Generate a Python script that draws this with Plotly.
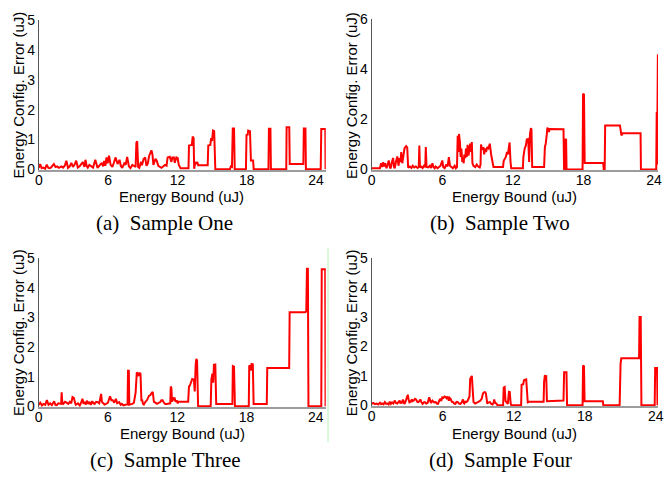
import plotly.graph_objects as go

# ---------------------------------------------------------------------------
# Energy configuration error versus energy bound, four samples
# ---------------------------------------------------------------------------
x_ticks = [0, 6, 12, 18, 24]
y_ticks_five = [0, 1, 2, 3, 4, 5]
y_ticks_six = [0, 2, 4, 6]
captions = ["(a)  Sample One", "(b)  Sample Two", "(c)  Sample Three", "(d)  Sample Four"]
x_title = "Energy Bound (uJ)"
y_title = "Energy Config. Error (uJ)"

# Sample One
one_bound = [
    0.00, 0.12, 0.25, 0.40, 0.55, 0.69, 0.83, 0.97, 1.10, 1.31, 1.45, 1.59, 1.75, 1.96, 2.10,
    2.25, 2.39, 2.53, 2.68, 2.82, 2.96, 3.10, 3.24, 3.38, 3.53, 3.67, 3.81, 3.95, 4.04, 4.14,
    4.24, 4.38, 4.52, 4.70, 4.89, 5.00, 5.09, 5.28, 5.46, 5.56, 5.66, 5.76, 5.86, 5.96, 6.08,
    6.22, 6.37, 6.50, 6.65, 6.82, 6.99, 7.10, 7.22, 7.40, 7.52, 7.65, 7.80, 7.93, 8.10, 8.22,
    8.38, 8.45, 8.52, 8.60, 8.70, 8.85, 8.93, 9.07, 9.21, 9.32, 9.44, 9.55, 9.64, 9.75, 9.84,
    9.92, 10.01, 10.10, 10.20, 10.35, 10.49, 10.63, 10.77, 10.92, 11.06, 11.15, 11.34, 11.48, 11.56, 11.70,
    11.77, 11.91, 12.02, 12.12, 12.27, 12.96, 13.00, 13.25, 13.32, 13.40, 13.45, 13.55, 13.65, 13.72, 13.80,
    14.62, 14.67, 14.85, 14.92, 15.00, 15.08, 15.18, 15.28, 16.55, 16.62, 16.72, 16.79, 16.90, 16.96, 17.93,
    17.98, 18.08, 18.12, 18.28, 18.36, 18.55, 18.60, 19.88, 19.92, 20.05, 20.09, 21.42, 21.45, 21.68, 21.72,
    22.90, 22.94, 23.08, 23.12, 24.40, 24.45, 24.80, 24.82,
]
one_error = [
    0.05, 0.18, 0.04, 0.06, 0.02, 0.16, 0.05, 0.04, 0.08, 0.18, 0.08, 0.10, 0.05, 0.10, 0.06,
    0.12, 0.29, 0.05, 0.10, 0.22, 0.08, 0.16, 0.29, 0.06, 0.10, 0.18, 0.24, 0.08, 0.32, 0.12,
    0.06, 0.15, 0.12, 0.06, 0.32, 0.20, 0.05, 0.14, 0.22, 0.10, 0.28, 0.12, 0.40, 0.20, 0.46,
    0.15, 0.08, 0.22, 0.40, 0.18, 0.32, 0.12, 0.05, 0.20, 0.15, 0.42, 0.10, 0.04, 0.15, 0.12,
    0.08, 0.90, 0.94, 0.08, 0.05, 0.25, 0.14, 0.35, 0.40, 0.12, 0.20, 0.45, 0.55, 0.64, 0.50,
    0.15, 0.25, 0.35, 0.30, 0.12, 0.08, 0.05, 0.10, 0.15, 0.12, 0.40, 0.42, 0.25, 0.40, 0.40,
    0.22, 0.40, 0.38, 0.15, 0.04, 0.04, 0.80, 0.82, 1.10, 1.05, 0.02, 0.25, 0.18, 0.25, 0.14,
    0.14, 0.80, 0.82, 1.05, 0.95, 1.30, 1.28, 0.00, 0.00, 0.10, 0.08, 1.37, 1.37, 0.00, 0.00,
    1.15, 1.16, 1.30, 1.28, 0.30, 0.30, 0.00, 0.00, 1.36, 1.36, 0.00, 0.00, 1.41, 1.41, 0.18,
    0.18, 1.37, 1.37, 0.00, 0.00, 1.35, 1.35, 0.00,
]

# Sample Two
two_bound = [
    0.00, 0.14, 0.70, 0.80, 0.90, 0.98, 1.06, 1.15, 1.26, 1.36, 1.45, 1.55, 1.62, 1.72, 1.82,
    1.90, 1.96, 2.08, 2.18, 2.28, 2.37, 2.45, 2.51, 2.60, 2.65, 2.79, 2.93, 3.02, 3.10, 3.25,
    3.38, 3.49, 3.62, 3.75, 3.91, 4.00, 4.05, 4.10, 4.22, 4.33, 4.45, 4.55, 4.60, 4.66, 4.80,
    4.95, 5.05, 5.16, 5.25, 5.35, 5.44, 5.60, 5.72, 5.85, 6.00, 6.08, 6.20, 6.35, 6.45, 6.56,
    6.65, 6.75, 6.90, 7.05, 7.15, 7.25, 7.31, 7.38, 7.42, 7.50, 7.56, 7.62, 7.70, 7.76, 7.82,
    7.87, 7.95, 8.01, 8.08, 8.15, 8.23, 8.30, 8.37, 8.45, 8.51, 8.56, 8.65, 8.80, 8.93, 9.05,
    9.18, 9.25, 9.29, 9.38, 9.49, 9.56, 9.63, 9.72, 9.82, 9.92, 10.04, 10.15, 10.27, 10.35, 10.46,
    11.16, 11.22, 11.40, 11.50, 11.58, 11.65, 11.72, 11.80, 11.86, 12.85, 12.89, 13.00, 13.10, 13.18, 13.30,
    13.38, 13.45, 13.53, 13.58, 13.64, 14.65, 14.72, 14.79, 14.88, 14.93, 15.00, 15.06, 15.12, 16.30, 16.35,
    16.42, 16.46, 16.52, 16.56, 17.92, 17.96, 18.04, 18.10, 19.67, 19.72, 19.80, 19.84, 21.10, 21.22, 21.32,
    22.85, 22.88, 24.18, 24.22, 24.25, 24.28, 24.32,
]
two_error = [
    0.05, 0.05, 0.05, 0.25, 0.10, 0.29, 0.12, 0.25, 0.05, 0.20, 0.36, 0.08, 0.05, 0.30, 0.46,
    0.10, 0.05, 0.35, 0.52, 0.15, 0.45, 0.30, 0.70, 0.25, 0.40, 0.84, 0.93, 0.88, 0.07, 0.12,
    0.06, 0.15, 0.08, 0.12, 0.06, 0.10, 0.96, 0.08, 0.12, 0.06, 0.15, 0.10, 0.90, 0.10, 0.08,
    0.15, 0.06, 0.25, 0.10, 0.05, 0.12, 0.05, 0.10, 0.15, 0.36, 0.10, 0.05, 0.20, 0.12, 0.49,
    0.15, 0.10, 0.05, 0.15, 0.05, 0.10, 1.35, 0.70, 1.42, 1.10, 0.50, 0.84, 0.30, 0.45, 0.25,
    0.60, 0.45, 0.84, 0.50, 0.99, 0.55, 0.80, 1.03, 0.70, 1.10, 0.26, 0.15, 0.10, 0.20, 0.12,
    0.08, 0.20, 1.00, 0.80, 0.89, 0.60, 0.84, 0.70, 0.90, 0.85, 1.03, 0.60, 0.26, 0.10, 0.10,
    0.10, 0.35, 0.50, 0.70, 0.60, 0.85, 1.08, 0.30, 0.05, 0.05, 0.50, 0.84, 0.95, 1.20, 1.22,
    0.30, 1.40, 1.65, 1.60, 0.10, 0.10, 0.90, 1.03, 1.40, 1.67, 1.62, 1.50, 1.62, 1.61, 0.00,
    0.00, 1.22, 1.20, 0.00, 0.00, 3.03, 3.00, 0.26, 0.26, 0.00, 0.00, 1.76, 1.76, 1.36, 1.45,
    1.45, 0.00, 0.00, 2.30, 0.20, 4.60, 4.60,
]

# Sample Three
three_bound = [
    0.00, 0.14, 0.28, 0.43, 0.57, 0.71, 0.85, 1.00, 1.14, 1.25, 1.34, 1.45, 1.57, 1.70, 1.85,
    1.95, 1.99, 2.05, 2.13, 2.28, 2.42, 2.56, 2.70, 2.82, 2.93, 3.05, 3.15, 3.22, 3.40, 3.56,
    3.68, 3.79, 3.90, 3.99, 4.10, 4.18, 4.30, 4.41, 4.52, 4.64, 4.75, 4.84, 4.98, 5.12, 5.25,
    5.41, 5.48, 5.55, 5.70, 5.84, 6.00, 6.18, 6.30, 6.40, 6.55, 6.69, 6.80, 6.97, 7.10, 7.20,
    7.35, 7.49, 7.62, 7.70, 7.74, 7.81, 7.85, 7.95, 8.11, 8.25, 8.40, 8.50, 8.58, 8.65, 8.72,
    8.82, 8.90, 8.97, 9.04, 9.11, 9.25, 9.39, 9.55, 9.68, 9.80, 9.88, 9.98, 10.05, 10.25, 10.40,
    10.53, 10.63, 10.73, 10.85, 10.96, 11.10, 11.24, 11.40, 11.44, 11.50, 11.55, 11.62, 11.70, 11.76, 11.86,
    11.96, 12.05, 12.10, 12.95, 13.02, 13.10, 13.30, 13.45, 13.52, 13.60, 13.66, 13.72, 13.81, 14.90, 14.96,
    15.05, 15.12, 15.18, 15.30, 15.38, 16.78, 16.82, 16.92, 17.00, 18.20, 18.24, 18.34, 18.38, 18.44, 18.55,
    18.62, 19.76, 19.80, 21.70, 21.74, 23.10, 23.18, 23.24, 23.32, 23.37, 24.48, 24.52, 24.82, 24.85,
]
three_error = [
    0.05, 0.12, 0.03, 0.08, 0.05, 0.21, 0.05, 0.10, 0.04, 0.12, 0.17, 0.05, 0.04, 0.10, 0.08,
    0.08, 0.47, 0.10, 0.08, 0.15, 0.12, 0.08, 0.15, 0.10, 0.31, 0.28, 0.12, 0.05, 0.10, 0.03,
    0.12, 0.25, 0.08, 0.15, 0.06, 0.19, 0.08, 0.15, 0.05, 0.17, 0.10, 0.08, 0.15, 0.14, 0.10,
    0.42, 0.15, 0.12, 0.06, 0.08, 0.12, 0.34, 0.20, 0.21, 0.12, 0.25, 0.10, 0.14, 0.05, 0.08,
    0.03, 0.05, 0.06, 0.06, 1.20, 1.20, 0.05, 0.06, 0.08, 0.12, 0.47, 1.15, 1.10, 1.02, 1.12,
    1.10, 0.20, 0.20, 0.08, 0.06, 0.15, 0.21, 0.35, 0.38, 0.45, 0.49, 0.15, 0.14, 0.08, 0.10,
    0.14, 0.20, 0.20, 0.12, 0.08, 0.08, 0.08, 0.10, 0.67, 0.60, 0.15, 0.30, 0.20, 0.30, 0.15,
    0.20, 0.10, 0.15, 0.15, 0.67, 0.70, 0.92, 0.90, 0.50, 1.40, 1.60, 1.55, 0.00, 0.00, 0.90,
    1.10, 0.80, 1.40, 1.41, 0.08, 0.08, 1.36, 1.34, 0.00, 0.00, 1.38, 1.35, 1.20, 1.43, 1.42,
    0.08, 0.08, 1.29, 1.29, 3.18, 3.18, 3.20, 4.65, 4.65, 0.00, 0.00, 4.63, 4.63, 0.00,
]

# Sample Four
four_bound = [
    0.00, 0.14, 0.28, 0.42, 0.56, 0.70, 0.80, 0.89, 1.00, 1.11, 1.22, 1.33, 1.43, 1.53, 1.62,
    1.72, 1.83, 1.94, 2.05, 2.17, 2.27, 2.36, 2.43, 2.50, 2.58, 2.64, 2.72, 2.78, 2.92, 3.05,
    3.12, 3.19, 3.30, 3.39, 3.47, 3.55, 3.65, 3.75, 3.85, 3.94, 4.03, 4.11, 4.20, 4.30, 4.40,
    4.49, 4.60, 4.72, 4.86, 4.93, 5.00, 5.13, 5.27, 5.41, 5.50, 5.60, 5.69, 5.77, 5.87, 5.96,
    6.06, 6.16, 6.25, 6.33, 6.42, 6.52, 6.59, 6.66, 6.77, 6.88, 6.97, 7.07, 7.17, 7.27, 7.38,
    7.49, 7.60, 7.71, 7.78, 7.82, 7.91, 7.99, 8.10, 8.18, 8.26, 8.32, 8.40, 8.46, 8.52, 8.60,
    8.74, 8.88, 9.02, 9.15, 9.29, 9.40, 9.49, 9.57, 9.65, 9.72, 9.76, 9.87, 9.99, 10.10, 10.21,
    10.30, 10.35, 10.42, 10.54, 10.62, 11.10, 11.15, 11.23, 11.30, 11.37, 11.50, 11.59, 11.66, 11.74, 11.79,
    12.62, 12.66, 12.80, 12.86, 13.05, 13.12, 13.18, 13.30, 14.52, 14.56, 14.62, 14.74, 14.80, 16.20, 16.25,
    16.45, 16.50, 17.81, 17.85, 17.93, 17.98, 19.52, 19.56, 20.94, 20.97, 21.02, 21.08, 22.58, 22.62, 22.72,
    22.78, 23.90, 23.94, 24.10, 24.14,
]
four_error = [
    0.05, 0.08, 0.04, 0.06, 0.03, 0.09, 0.04, 0.06, 0.03, 0.11, 0.05, 0.06, 0.03, 0.12, 0.05,
    0.10, 0.06, 0.16, 0.08, 0.06, 0.12, 0.16, 0.06, 0.11, 0.08, 0.20, 0.08, 0.05, 0.20, 0.36,
    0.20, 0.10, 0.12, 0.20, 0.14, 0.16, 0.22, 0.20, 0.12, 0.11, 0.15, 0.20, 0.10, 0.05, 0.10,
    0.11, 0.06, 0.08, 0.27, 0.20, 0.08, 0.16, 0.10, 0.11, 0.06, 0.05, 0.12, 0.22, 0.15, 0.27,
    0.25, 0.30, 0.28, 0.24, 0.30, 0.16, 0.25, 0.22, 0.12, 0.11, 0.06, 0.05, 0.12, 0.11, 0.06,
    0.05, 0.10, 0.20, 0.08, 0.06, 0.12, 0.11, 0.15, 0.22, 0.30, 0.90, 1.00, 1.00, 0.60, 0.11,
    0.06, 0.10, 0.11, 0.15, 0.22, 0.40, 0.44, 0.45, 0.40, 0.15, 0.06, 0.10, 0.11, 0.05, 0.03,
    0.10, 0.20, 0.08, 0.06, 0.00, 0.00, 0.60, 0.62, 0.15, 0.10, 0.05, 0.46, 0.45, 0.05, 0.00,
    0.00, 0.70, 0.72, 0.85, 0.88, 0.40, 0.10, 0.12, 0.12, 0.80, 1.00, 0.99, 0.14, 0.16, 1.12,
    1.12, 0.00, 0.00, 1.35, 1.33, 0.14, 0.14, 0.00, 0.00, 1.40, 1.42, 1.60, 1.60, 3.00, 3.00,
    0.00, 0.00, 1.27, 1.27, 0.00,
]

series = [
    (one_bound, one_error),
    (two_bound, two_error),
    (three_bound, three_error),
    (four_bound, four_error),
]
for xs, ys in series:
    assert len(xs) == len(ys)

# ---------------------------------------------------------------------------
# Layout geometry (pixels of the 664 x 483 page)
# ---------------------------------------------------------------------------
W, H = 664, 483


def fx(p):
    return p / W


def fy(p):
    return 1 - p / H


# left/right and bottom/top pixel edges of each plot area, with axis ranges
panels = [
    dict(px=(35.3, 326.7), py=(167.6, 12.7), xr=(0, 24.84), yr=(-0.035, 5), yt=y_ticks_five),
    dict(px=(373.3, 664.0), py=(167.7, 11.7), xr=(0, 24.33), yr=(-0.04, 6), yt=y_ticks_six),
    dict(px=(35.2, 326.7), py=(412.1, 258.3), xr=(0, 24.87), yr=(-0.035, 5), yt=y_ticks_five),
    dict(px=(373.3, 664.0), py=(411.1, 258.3), xr=(0, 24.18), yr=(-0.035, 5), yt=y_ticks_five),
]

tick_font = dict(family="Liberation Sans, Arial, sans-serif", size=14, color="black")
title_font = dict(family="Liberation Sans, Arial, sans-serif", size=15, color="black")
caption_font = dict(family="Liberation Serif, Times New Roman, serif", size=21, color="black")

fig = go.Figure()
layout = dict(
    width=W,
    height=H,
    margin=dict(l=0, r=0, t=0, b=0),
    paper_bgcolor="white",
    plot_bgcolor="white",
    showlegend=False,
)

for i, (p, (xs, ys)) in enumerate(zip(panels, series)):
    n = "" if i == 0 else str(i + 1)
    fig.add_trace(
        go.Scatter(
            x=xs,
            y=ys,
            mode="lines",
            line=dict(color="#ff0000", width=2),
            xaxis="x" + n,
            yaxis="y" + n,
            hoverinfo="skip",
        )
    )
    layout["xaxis" + n] = dict(
        domain=[fx(p["px"][0]), fx(p["px"][1])],
        range=list(p["xr"]),
        anchor="y" + n,
        tickvals=x_ticks,
        ticks="",
        showgrid=False,
        zeroline=False,
        showline=True,
        linecolor="#9c9c9c",
        linewidth=1.5,
        tickfont=tick_font,
        ticklabeloverflow="allow",
        ticklabelstandoff=-4,
        fixedrange=True,
    )
    layout["yaxis" + n] = dict(
        domain=[fy(p["py"][0]), fy(p["py"][1])],
        range=list(p["yr"]),
        anchor="x" + n,
        tickvals=p["yt"],
        ticks="",
        showgrid=False,
        zeroline=False,
        showline=True,
        linecolor="#555555",
        linewidth=1,
        tickfont=tick_font,
        ticklabeloverflow="allow",
        ticklabelstandoff=0,
        fixedrange=True,
    )

annotations = []
# axis titles and captions, placed per panel
x_title_pos = [(180.5, 195), (518, 195), (181, 439.5), (518, 439.5)]
y_title_pos = [(14.5, 90), (353, 90), (14.5, 335), (353, 335)]
caption_pos = [(162.5, 222), (504, 222), (164, 466.5), (504.5, 466.5)]
for i in range(4):
    annotations.append(dict(
        text=x_title, x=fx(x_title_pos[i][0]), y=fy(x_title_pos[i][1]),
        xref="paper", yref="paper", xanchor="center", yanchor="middle",
        showarrow=False, font=title_font,
    ))
    annotations.append(dict(
        text=y_title, x=fx(y_title_pos[i][0]), y=fy(y_title_pos[i][1]),
        xref="paper", yref="paper", xanchor="center", yanchor="middle",
        textangle=-90, showarrow=False, font=title_font,
    ))
    annotations.append(dict(
        text=captions[i], x=fx(caption_pos[i][0]), y=fy(caption_pos[i][1]),
        xref="paper", yref="paper", xanchor="center", yanchor="middle",
        showarrow=False, font=caption_font,
    ))
layout["annotations"] = annotations

# thin separator line at the right edge of the lower-left panel
layout["shapes"] = [dict(
    type="line", xref="paper", yref="paper",
    x0=fx(329), x1=fx(329), y0=fy(248), y1=fy(448),
    line=dict(color="#b6f2b6", width=1),
)]

fig.update_layout(**layout)
fig.write_html("out.html")
